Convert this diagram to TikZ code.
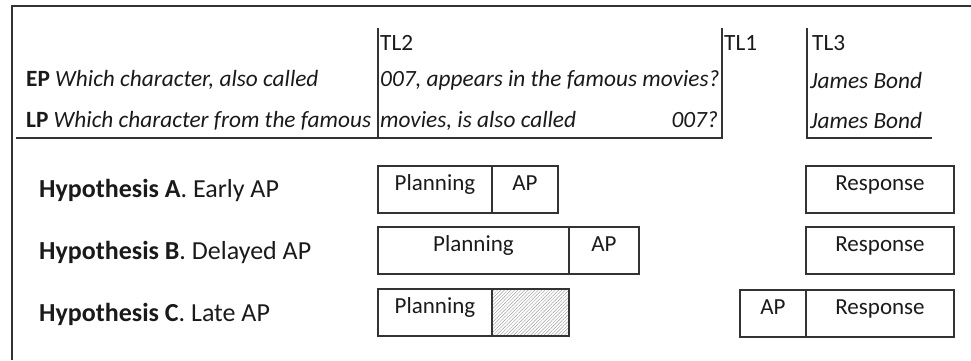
\documentclass[tikz,border=0pt]{standalone}
\usepackage{fontspec}
\setmainfont{Carlito}
\usetikzlibrary{patterns.meta}
\definecolor{ink}{HTML}{1A1A1A}
\definecolor{rule}{HTML}{333333}
\begin{document}
\begin{tikzpicture}[x=1pt,y=-1pt,
  txt/.style={inner sep=0pt,anchor=base west,text=ink,font=\fontsize{23.3}{27}\selectfont},
  hyp/.style={txt,font=\fontsize{26}{30}\selectfont},
  seg/.style={draw=rule,line width=1.1pt,inner sep=0pt,text=ink,
    font=\fontsize{23}{27}\selectfont,text height=8pt,text depth=6pt},
  frameline/.style={draw=rule,line width=1.4pt},
  bracket/.style={draw=rule,line width=1.1pt}]
\useasboundingbox (0,0) rectangle (971,360);
% frame
\coordinate (ftr) at (971,6);
\coordinate (ftl) at (12,6);
\coordinate (fbl) at (12,360);
\draw[frameline] (ftr) -- (ftl) -- (fbl);
% top texts
\node[txt] (tl2) at (380,50) {TL2};
\node[txt] (tl1) at (724,50) {TL1};
\node[txt] (tl3) at (812,50) {TL3};
\node[txt] (ep) at (26,86) {\textbf{EP} \textit{Which character, also called}};
\node[txt] (ep2) at (380,86) {\textit{007, appears in the famous movies?}};
\node[txt] (lp) at (26,127) {\textbf{LP} \textit{Which character from the famous}};
\node[txt] (lp2) at (380,127) {\textit{movies, is also called}};
\node[txt,anchor=base east] (lp3) at (718,127) {\textit{007?}};
\node[txt] (jb1) at (810,88) {\textit{James Bond}};
\node[txt] (jb2) at (810,128) {\textit{James Bond}};
% brackets
\coordinate (b0) at (16,138);
\coordinate (b1b) at (378,138);
\coordinate (b1t) at (378,28);
\coordinate (b2b) at (722,138);
\coordinate (b2t) at (722,28);
\coordinate (b3t) at (807,28);
\coordinate (b3b) at (807,138);
\coordinate (b3e) at (932,138);
\draw[bracket,line width=1.5pt] (b0) -- (b1b);
\draw[bracket] (b1t) -- (b1b) -- (b2b) -- (b2t);
\draw[bracket] (b3t) -- (b3b) -- (b3e);
% hypotheses
\node[hyp] (ha) at (39,197) {\textbf{Hypothesis A}. Early AP};
\node[hyp] (hb) at (39,259) {\textbf{Hypothesis B}. Delayed AP};
\node[hyp] (hc) at (39,321) {\textbf{Hypothesis C}. Late AP};
% row A
\node[seg,minimum width=114pt,minimum height=47pt] (pa) at (435,189.5) {Planning};
\node[seg,minimum width=66pt,minimum height=47pt] (apa) at (525,189.5) {AP};
\node[seg,minimum width=148pt,minimum height=47pt] (ra) at (880,189.5) {Response};
% row B
\node[seg,minimum width=191pt,minimum height=47pt] (pb) at (473.5,250.5) {Planning};
\node[seg,minimum width=70pt,minimum height=47pt] (apb) at (604,250.5) {AP};
\node[seg,minimum width=148pt,minimum height=47pt] (rb) at (880,250.5) {Response};
% row C
\node[seg,minimum width=114pt,minimum height=47pt] (pc) at (435,312.5) {Planning};
\node[seg,minimum width=77pt,minimum height=47pt,
  pattern={Lines[angle=45,distance=2.4pt,line width=0.45pt]},pattern color=black!38] (hatch) at (530.5,312.5) {};
\node[seg,minimum width=66pt,minimum height=47pt] (apc) at (773,313.5) {AP};
\node[seg,minimum width=148pt,minimum height=47pt] (rc) at (880,313.5) {Response};
\end{tikzpicture}
\end{document}
